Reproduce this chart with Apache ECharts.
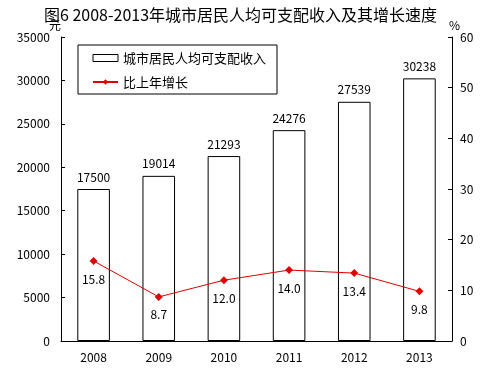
<!DOCTYPE html>
<html lang="zh-CN">
<head>
    <meta charset="UTF-8">
    <title>城市居民人均可支配收入</title>
    <script src="https://cdn.jsdelivr.net/npm/echarts@6/dist/echarts.min.js"></script>
    <style>
        html, body { margin: 0; padding: 0; background: #fff; }
        #chart { width: 481px; height: 377px; }
    </style>
</head>
<body>
<div id="chart"></div>
<script>
    var years = ['2008', '2009', '2010', '2011', '2012', '2013'];
    var income = [17500, 19014, 21293, 24276, 27539, 30238];
    var growth = [15.8, 8.7, 12.0, 14.0, 13.4, 9.8];

    var font = '"Noto Sans CJK SC", "DejaVu Sans", sans-serif';

    var chart = echarts.init(document.getElementById('chart'));

    chart.setOption({
        animation: false,
        textStyle: { fontFamily: font, color: '#000' },
        title: {
            text: '图6 2008-2013年城市居民人均可支配收入及其增长速度',
            left: 'center',
            top: 2,
            textStyle: { fontSize: 16, fontWeight: 'normal', color: '#000', fontFamily: font }
        },
        legend: {
            orient: 'vertical',
            left: 78,
            top: 45,
            padding: [6, 11, 5, 14],
            borderColor: '#000',
            borderWidth: 1,
            borderRadius: 0,
            itemWidth: 25,
            itemHeight: 7,
            itemGap: 10,
            textStyle: { fontSize: 13, lineHeight: 14, color: '#000' },
            data: [
                { name: '城市居民人均可支配收入', icon: 'rect', itemStyle: { borderWidth: 1, borderColor: '#000', color: '#fff' } },
                { name: '比上年增长' }
            ]
        },
        grid: { left: 61, right: 29, top: 37, bottom: 36 },
        xAxis: {
            type: 'category',
            data: years,
            axisLine: { lineStyle: { color: '#000', width: 1 } },
            axisTick: { inside: true, length: 3, lineStyle: { color: '#000' } },
            axisLabel: { color: '#000', fontSize: 12, margin: 10 }
        },
        yAxis: [
            {
                type: 'value',
                name: '元',
                nameGap: 3,
                nameTextStyle: { color: '#000', fontSize: 12, align: 'right' },
                min: 0,
                max: 35000,
                interval: 5000,
                splitLine: { show: false },
                axisLine: { show: true, lineStyle: { color: '#000' } },
                axisTick: { show: true, inside: true, length: 4, lineStyle: { color: '#000' } },
                axisLabel: { color: '#000', fontSize: 12, margin: 11, formatter: function (v) { return String(v); } }
            },
            {
                type: 'value',
                name: '%',
                nameGap: 3,
                nameTextStyle: { color: '#000', fontSize: 12, align: 'left', padding: [0, 0, 0, -3] },
                min: 0,
                max: 60,
                interval: 10,
                splitLine: { show: false },
                axisLine: { show: true, lineStyle: { color: '#000' } },
                axisTick: { show: true, inside: true, length: 4, lineStyle: { color: '#000' } },
                axisLabel: { color: '#000', fontSize: 12, margin: 8 }
            }
        ],
        series: [
            {
                name: '城市居民人均可支配收入',
                type: 'bar',
                data: income,
                barWidth: '50%',
                itemStyle: { color: '#fff', borderColor: '#000', borderWidth: 1 },
                label: { show: true, position: 'top', distance: 6, color: '#000', fontSize: 12 }
            },
            {
                name: '比上年增长',
                type: 'line',
                yAxisIndex: 1,
                data: growth,
                symbol: 'diamond',
                symbolSize: 8,
                lineStyle: { color: '#e00000', width: 1 },
                itemStyle: { color: '#e00000' },
                label: {
                    show: true,
                    position: 'bottom',
                    distance: 8,
                    color: '#000',
                    fontSize: 12,
                    formatter: function (p) { return p.value.toFixed(1); }
                }
            }
        ]
    });
</script>
</body>
</html>
